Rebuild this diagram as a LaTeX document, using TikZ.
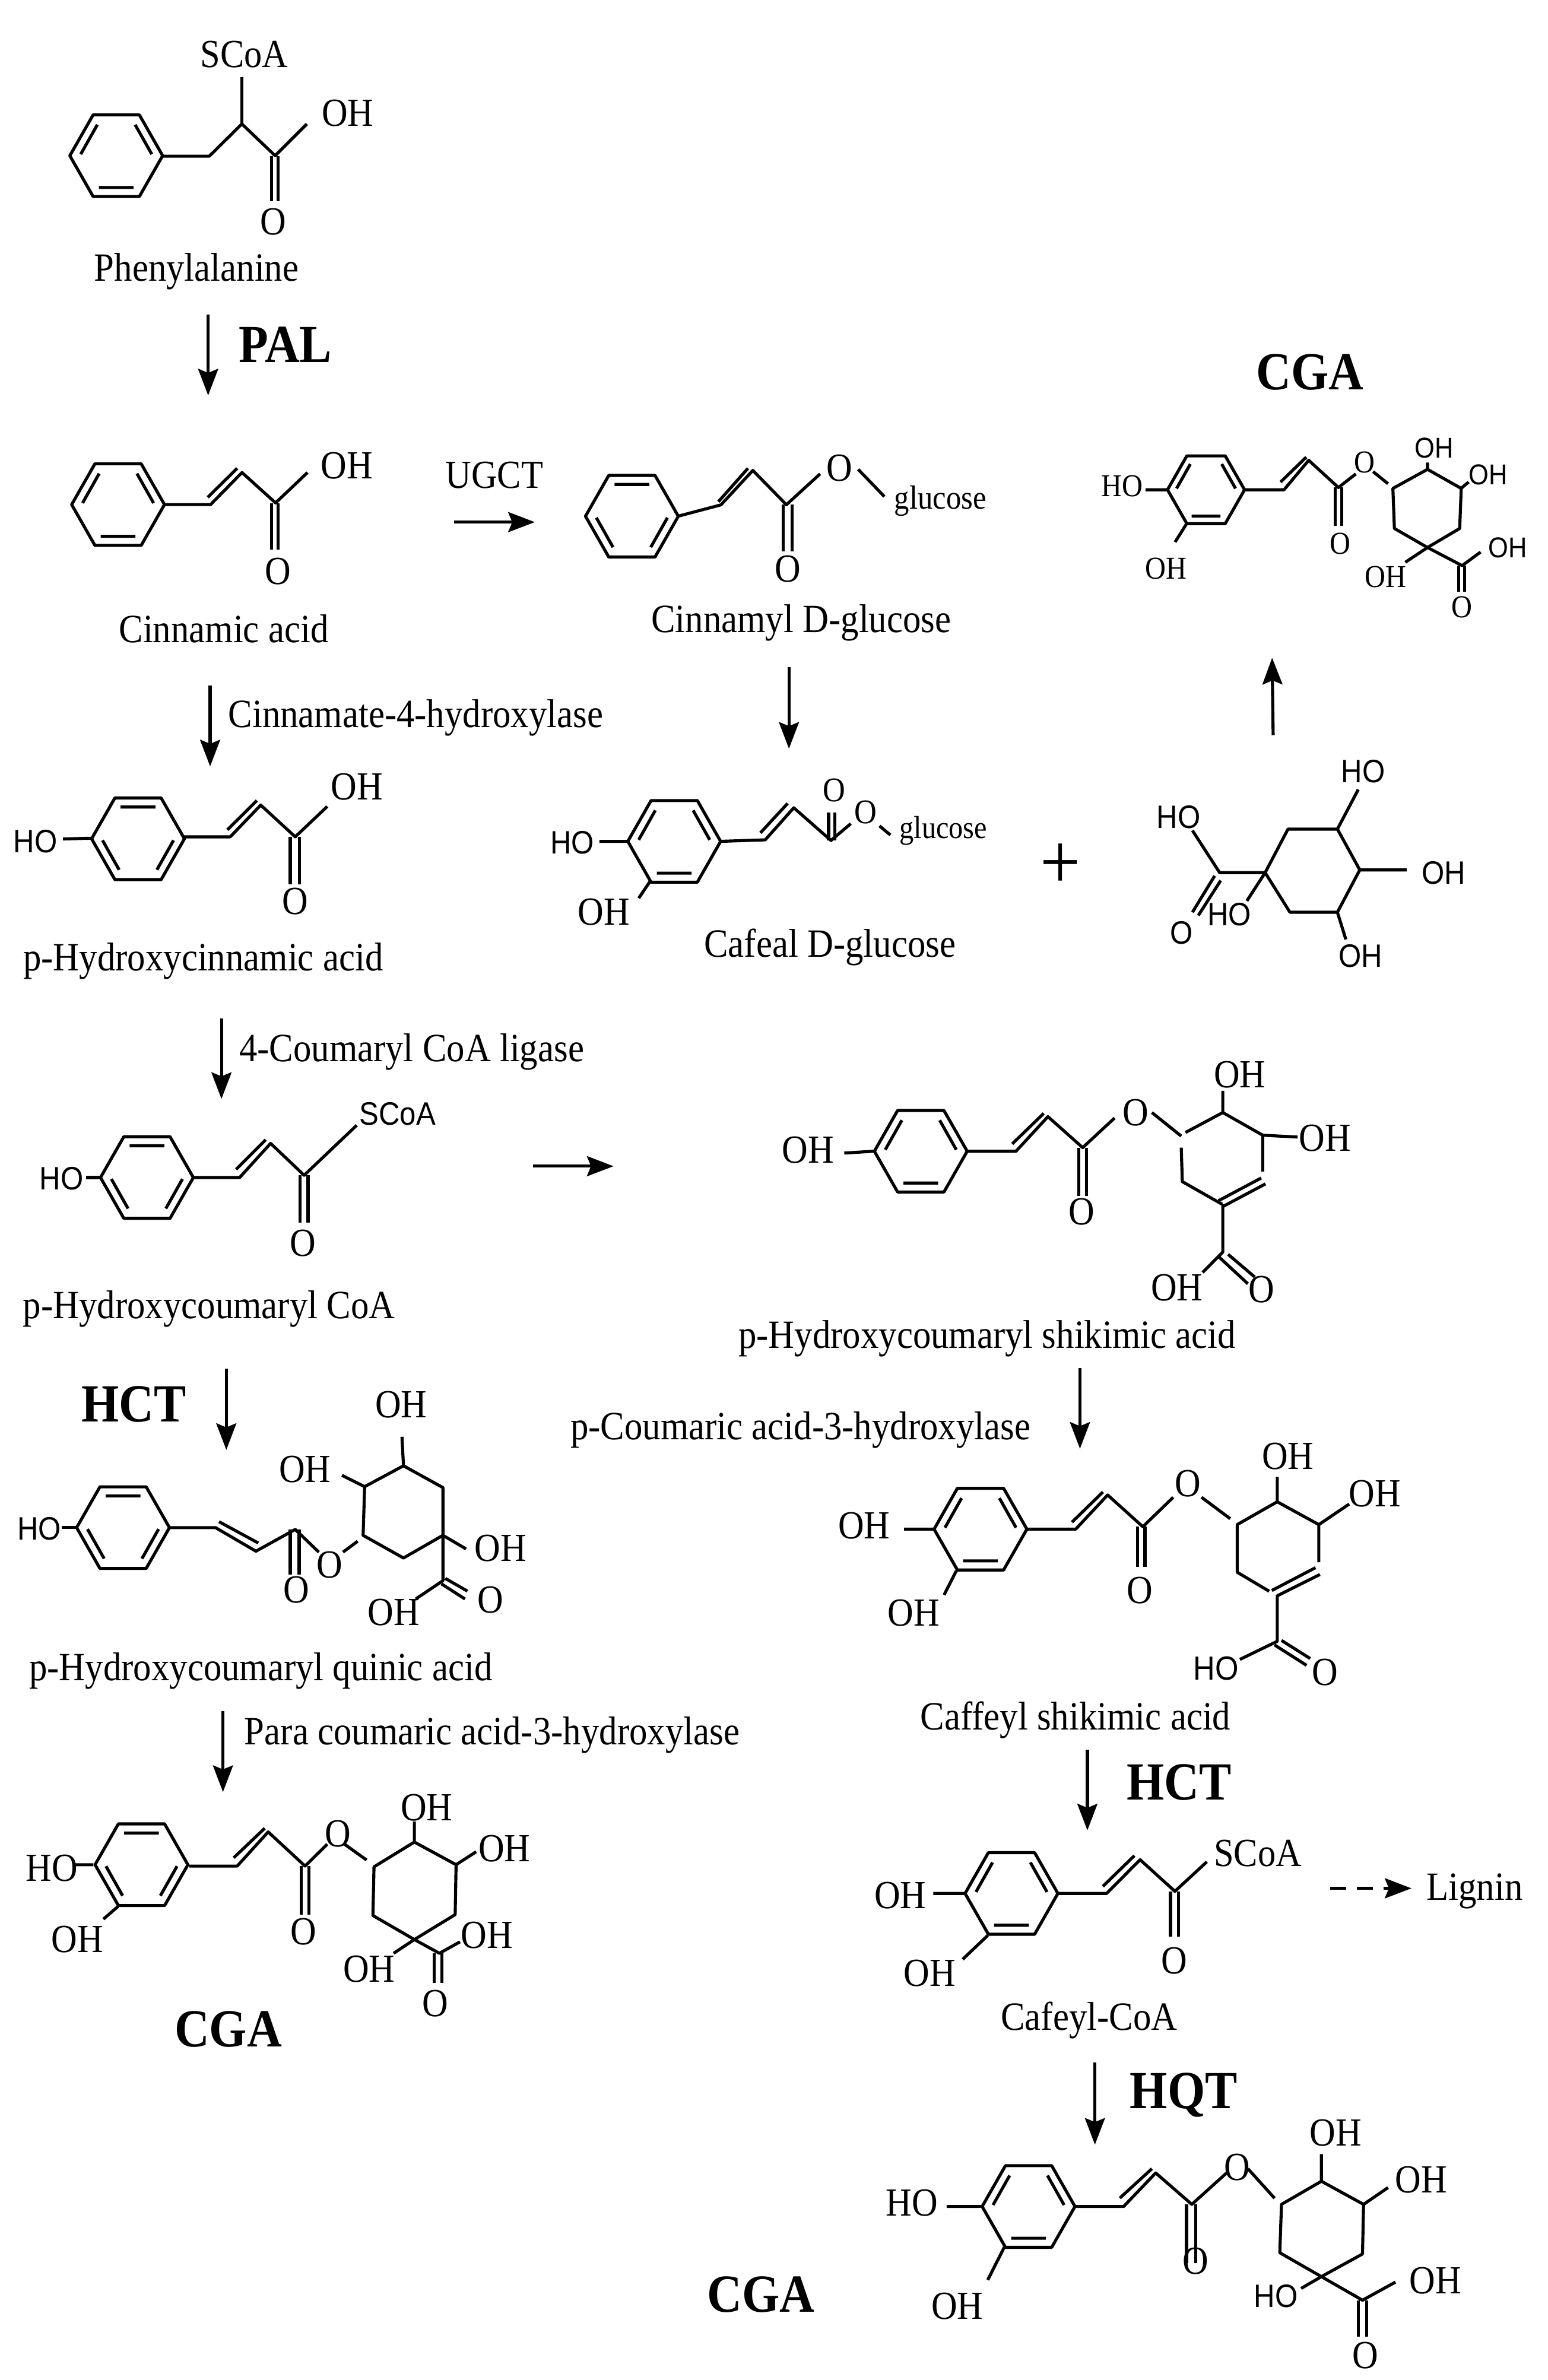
\documentclass[tikz,border=0pt]{standalone}
\usepackage{fontspec}
\setmainfont[FakeStretch=0.9]{Liberation Serif}
\setsansfont[FakeStretch=0.9]{Liberation Sans}
\usetikzlibrary{arrows.meta}
\tikzset{
  bond/.style={line width=1.15pt,line join=round},
  rxn/.style={line width=1.15pt,-{Stealth[length=10pt,width=7.5pt,inset=1.5pt]}},
  atom/.style={inner sep=0pt,font=\fontsize{15}{18}\selectfont},
  atomsf/.style={inner sep=0pt,font=\sffamily\fontsize{12.2}{15}\selectfont},
  atomsm/.style={inner sep=0pt,font=\fontsize{12}{15}\selectfont},
  cpd/.style={inner sep=0pt,font=\fontsize{15.1}{18}\selectfont},
  enz/.style={inner sep=0pt,font=\bfseries\fontsize{20.2}{23}\selectfont},
  ringa/.pic={\draw[bond](-30.7,0)--(-15.3,-27)--(15.3,-27)--(30.7,0)--(15.3,27)--(-15.3,27)--cycle;
    \draw[bond](-23.5,-1)--(-12.5,-20.5)(23.5,-1)--(12.5,-20.5)(-11.5,21)--(11.5,21);},
  ringb/.pic={\draw[bond](-30.7,0)--(-15.3,-27)--(15.3,-27)--(30.7,0)--(15.3,27)--(-15.3,27)--cycle;
    \draw[bond](-23.5,1)--(-12.5,20.5)(23.5,1)--(12.5,20.5)(-11.5,-21)--(11.5,-21);},
}
\begin{document}
\begin{tikzpicture}[x=0.02cm,y=-0.02cm]
\useasboundingbox (0,0) rectangle (1024,1574.5);
\pic at (76.9,103) {ringa};
\draw[bond](107.4,103.3)--(138.5,103.3)--(160,82)--(182,103)--(203,82);
\draw[bond](160,82)--(160,51);
\draw[bond](179.7,103.3)--(179.7,133)(184,103.3)--(184,133);
\node[atom] (phescoa) at (161.5,35.8) {SCoA};
\node[atom] (pheoh) at (230,75) {OH};
\node[atom] (pheo) at (180.6,146.5) {O};
\node[cpd] (phe) at (130,179.5) {Phenylalanine};
\coordinate (palA) at (137.7,208);
\coordinate (palB) at (137.7,261.6);
\draw[rxn](palA)--(palB);
\node[enz] (pal) at (188.8,228) {PAL};
\pic at (78.1,333.8) {ringa};
\draw[bond](108.4,333.8)--(139.3,333.8)--(160.1,312.6)--(182.3,332.7)--(203.4,312.6);
\draw[bond](137.4,329)--(156.9,309.8);
\draw[bond](179.7,333)--(179.7,363.5)(183.9,333)--(183.9,363.5);
\node[atom] (cinoh) at (229.5,307.9) {OH};
\node[atom] (cino) at (184,377.9) {O};
\node[cpd] (cin) at (148,416) {Cinnamic acid};
\node[atom] (ugct) at (327,314.5) {UGCT};
\coordinate (ugctA) at (300.4,345.4);
\coordinate (ugctB) at (353.8,345.4);
\draw[rxn](ugctA)--(ugctB);
\pic at (418,341.5) {ringb};
\draw[bond](448.5,341.5)--(476.9,334)--(498,311.2)--(520.2,333.9)--(542.5,313.5);
\draw[bond](475.2,331.9)--(494.8,309.8);
\draw[bond](518,333.9)--(518,364.6)(524,333.9)--(524,364.6);
\draw[bond](567.7,310.5)--(585,328.5);
\node[atom] (cgluo) at (555.3,309.6) {O};
\node[atom] (cgluo2) at (521.2,376.5) {O};
\node[atomsm,font=\fontsize{12.6}{15}\selectfont] (cglug) at (622,331.5) {glucose};
\node[cpd] (cglu) at (530,412) {Cinnamyl D-glucose};
\coordinate (cgluA) at (521.9,441.2);
\coordinate (cgluB) at (521.9,495.3);
\draw[rxn](cgluA)--(cgluB);
\pic at (91.3,554.9) {ringb};
\draw[bond](41.7,555)--(61.2,554.5);
\draw[bond](121.4,553.6)--(152.3,553.6)--(172.5,532.6)--(195.3,553.6)--(216.5,533.5);
\draw[bond](150.4,549)--(169.9,529.6);
\draw[bond](192,553.6)--(192,585.2)(198,553.6)--(198,585.2);
\node[atomsf] (phcho) at (23.4,556.6) {HO};
\node[atom] (phcoh) at (236,520.5) {OH};
\node[atom] (phco) at (195.3,596.3) {O};
\node[cpd] (phc) at (134.4,636) {p-Hydroxycinnamic acid};
\coordinate (c4hA) at (139,453.5);
\coordinate (c4hB) at (139,507);
\draw[rxn](c4hA)--(c4hB);
\node[cpd] (c4h) at (275,475) {Cinnamate-4-hydroxylase};
\pic at (97.2,779) {ringb};
\draw[bond](57,779)--(66.7,779);
\draw[bond](127.6,779)--(158.5,779)--(179,756.4)--(201.2,777.5)--(236,744.4);
\draw[bond](156.2,773.6)--(175.8,754);
\draw[bond](198.6,777.5)--(198.6,809)(203.8,777.5)--(203.8,809);
\node[atomsf] (pcaho) at (40.7,779.6) {HO};
\node[atom] (pcao) at (200.2,822.5) {O};
\node[atomsf] (pcascoa) at (263,736.9) {SCoA};
\node[cpd] (pca) at (138.3,866) {p-Hydroxycoumaryl CoA};
\coordinate (ligA) at (146.5,673.8);
\coordinate (ligB) at (146.5,727);
\draw[rxn](ligA)--(ligB);
\node[cpd] (lig) at (272.3,696) {4-Coumaryl CoA ligase};
\coordinate (shkA) at (352.5,771.5);
\coordinate (shkB) at (405.9,771.5);
\draw[rxn](shkA)--(shkB);
\pic[scale=.83] at (797.8,324) {ringa};
\draw[bond](757.7,324)--(772.4,324)(785.5,345.6)--(777.3,358.6);
\draw[bond](823.2,324)--(849.4,324)--(865.7,304.5)--(885.4,322.5)--(896.9,313.5);
\draw[bond](847.1,318.9)--(864.1,302.4);
\draw[bond](883.1,322.5)--(883.1,348)(887.7,322.5)--(887.7,348);
\draw[bond](908.3,312)--(918.2,320);
\draw[bond](921.4,323.1)--(944.3,310.5)--(966.6,323.1)--(965.6,349.6)--(944.3,362.2)--(922.4,349.6)--cycle;
\draw[bond](944.3,310.5)--(944.3,306)(966.6,323)--(971.5,318.9)(944.3,362.2)--(929.6,372);
\draw[bond](944.3,362.2)--(967.2,374.2)--(979.4,365.2);
\draw[bond](965,374)--(965,391.6)(968.9,374)--(968.9,391.6);
\node[atomsm] (cgaho) at (742.3,321.6) {HO};
\node[atomsm] (cgaoha) at (771.4,376) {OH};
\node[atomsm] (cgaoa) at (886.4,359.5) {O};
\node[atomsm] (cgaob) at (902.7,306) {O};
\node[atomsf,font=\sffamily\fontsize{10.8}{13}\selectfont] (cgaohb) at (948.6,296.4) {OH};
\node[atomsf,font=\sffamily\fontsize{10.8}{13}\selectfont] (cgaohc) at (984.3,314.1) {OH};
\node[atomsm] (cgaohd) at (916.5,381.7) {OH};
\node[atomsf,font=\sffamily\fontsize{10.8}{13}\selectfont] (cgaohe) at (997.4,362.5) {OH};
\node[atomsm] (cgaoc) at (967.2,401.5) {O};
\node[enz] (cgaA) at (866.5,246) {CGA};
\coordinate (upA) at (842.2,486.3);
\coordinate (upB) at (841.5,435.2);
\draw[rxn](upA)--(upB);
\pic at (446,556.6) {ringa};
\draw[bond](396.5,556.6)--(415.7,556.6)(430.6,582.2)--(422.5,594.2);
\draw[bond](476.2,556.6)--(506.2,555.6)--(525.1,534.4)--(549.7,556)--(562.8,544.9);
\draw[bond](503,551)--(521,531.5);
\draw[bond](548.1,556)--(548.1,537.4)(552.3,556)--(552.3,537.4);
\draw[bond](581.8,546.4)--(589,552.4);
\node[atomsf] (cafho) at (378.6,557.5) {HO};
\node[atom] (cafoh) at (399.4,603.2) {OH};
\node[atom,font=\fontsize{13}{15}\selectfont] (cafoa) at (552,522.9) {O};
\node[atom,font=\fontsize{13}{15}\selectfont] (cafob) at (572.6,537.4) {O};
\node[atomsm] (cafg) at (624,549.5) {glucose};
\node[cpd] (caf) at (549,626.5) {Cafeal D-glucose};
\node[inner sep=0pt,font=\fontsize{30}{32}\selectfont] (plus) at (701.5,573) {+};
\draw[bond](836.9,577.3)--(852,548.5)--(884.7,548.5)--(899.5,575.5)--(884.7,603.5)--(853.3,603.5)--cycle;
\draw[bond](884.7,548.5)--(898.5,522.3)(899.5,575.5)--(930.6,575.5)(884.7,603.5)--(890.3,621.5);
\draw[bond](836.9,577.3)--(806.8,577.3)--(788.8,549.4)(836.9,577.3)--(824.8,596);
\draw[bond](803.5,579.4)--(788.8,603.5)(807.5,582.5)--(792.7,605.6);
\node[atomsf] (qnoha) at (901.8,510.3) {HO};
\node[atomsf] (qnohb) at (955.1,577.3) {OH};
\node[atomsf] (qnohc) at (900.1,632.6) {OH};
\node[atomsf] (qnohd) at (779.6,540.4) {HO};
\node[atomsf] (qnoa) at (781.6,617) {O};
\node[atomsf] (qnohe) at (813.3,605) {HO};
\pic at (609.1,761.6) {ringa};
\draw[bond](558.5,762.8)--(577.9,761.6);
\draw[bond](640.3,761.6)--(672.1,761.6)--(693.2,738.7)--(716.2,759.2)--(737.3,739.6);
\draw[bond](669.6,756.7)--(690.4,736.6);
\draw[bond](713.7,759.2)--(713.7,791.3)(718.6,759.2)--(718.6,791.3);
\draw[bond](762,736)--(781.4,751.6)(784.2,749.2)--(808.9,736)--(835.3,751)--(835.3,775);
\draw[bond](834.3,779.3)--(806.1,794.3)(837.1,783.2)--(808.9,798.2);
\draw[bond](808.5,796.7)--(782.1,781.7)--(781.4,759.2);
\draw[bond](808.9,736)--(808.9,721.6)(835.3,751)--(858.3,752.2);
\draw[bond](808.9,796.7)--(808.9,828.3)--(795.5,841.8);
\draw[bond](806.1,831.3)--(825.5,849.3)(812.4,829.8)--(830,844.8);
\node[atom] (shkoha) at (534.6,760.7) {OH};
\node[atom] (shkoa) at (715.5,801.8) {O};
\node[atom] (shkob) at (751.4,736) {O};
\node[atom] (shkohb) at (820.2,711) {OH};
\node[atom] (shkohc) at (876.6,753.1) {OH};
\node[atom] (shkohd) at (778.6,851.7) {OH};
\node[atom] (shkoc) at (834.3,852.9) {O};
\node[cpd] (shk) at (653,885.5) {p-Hydroxycoumaryl shikimic acid};
\coordinate (c3hA) at (714.4,904.9);
\coordinate (c3hB) at (714.4,958.4);
\draw[rxn](c3hA)--(c3hB);
\node[cpd] (c3h) at (529.5,946) {p-Coumaric acid-3-hydroxylase};
\pic at (648.6,1011.6) {ringa};
\draw[bond](598,1011.6)--(617.4,1011.6)(632.6,1039.2)--(624.5,1055.1);
\draw[bond](679.8,1011.6)--(711.6,1011.6)--(732.7,989)--(756,1010)--(776.1,990.5);
\draw[bond](709.1,1007)--(729.6,987);
\draw[bond](752.5,1010)--(752.5,1036.5)(757.4,1010)--(757.4,1036.5);
\draw[bond](794.8,990.5)--(813.8,1004.7);
\draw[bond](872.4,1033.5)--(872.4,1008.6)--(844.9,993.5)--(818.4,1008.6)--(818.4,1040.1)--(839.6,1052.7);
\draw[bond](870.2,1037.1)--(841.3,1052.2)(873.1,1041.6)--(844.9,1055.7);
\draw[bond](844.9,993.5)--(844.9,977)(872.4,1008.6)--(892.5,995);
\draw[bond](844.9,1055.1)--(844.9,1085.8)--(820.2,1097.8);
\draw[bond](843.1,1088.2)--(864.3,1101.7)(847.7,1085.2)--(866.7,1097.2);
\node[atom] (cskoha) at (571.6,1009.2) {OH};
\node[atom] (cskohb) at (604.4,1067.2) {OH};
\node[atom] (cskoa) at (753.9,1052.1) {O};
\node[atom] (cskob) at (785.6,981.5) {O};
\node[atom] (cskohc) at (851.9,963.5) {OH};
\node[atom] (cskohd) at (909.4,988.1) {OH};
\node[atomsf,font=\sffamily\fontsize{12.6}{15}\selectfont] (cskohe) at (804.3,1103.8) {HO};
\node[atom] (cskoc) at (876.6,1106.2) {O};
\node[cpd] (csk) at (711.5,1138) {Caffeyl shikimic acid};
\coordinate (hctA) at (719.3,1157.5);
\coordinate (hctB) at (719.3,1210.9);
\draw[rxn](hctA)--(hctB);
\node[enz] (hct) at (780,1179) {HCT};
\pic at (669.1,1252.6) {ringa};
\draw[bond](617.4,1252.6)--(637.9,1252.6)(653.4,1280.4)--(636.8,1296.2);
\draw[bond](700.3,1252.6)--(732,1252.6)--(754.2,1230.3)--(777.2,1251.2)--(798.3,1231.7);
\draw[bond](729.6,1247.9)--(750.4,1227.6);
\draw[bond](774.3,1251.2)--(774.3,1281)(779.6,1251.2)--(779.6,1281);
\node[atom] (cfcoha) at (595.6,1254) {OH};
\node[atom] (cfcohb) at (615,1305.4) {OH};
\node[atom] (cfco) at (776.8,1297) {O};
\node[atom] (cfcscoa) at (832,1226.2) {SCoA};
\node[cpd] (lign) at (975.5,1251) {Lignin};
\coordinate (ligninA) at (880,1249.2);
\coordinate (ligninB) at (933.7,1249.2);
\draw[rxn,dash pattern=on 6pt off 4pt](ligninA)--(ligninB);
\node[cpd] (cfc) at (720.5,1336.5) {Cafeyl-CoA};
\coordinate (hqtA) at (724.3,1364.6);
\coordinate (hqtB) at (724.3,1418.8);
\draw[rxn](hqtA)--(hqtB);
\node[enz] (hqt) at (783,1386) {HQT};
\pic at (680.4,1459.7) {ringa};
\draw[bond](626.2,1459.7)--(649.2,1459.7)(664.3,1486.7)--(653.4,1508.3);
\draw[bond](711.6,1459.7)--(743.3,1459.7)--(764.5,1437.5)--(788.4,1458.3)--(811.4,1437.5);
\draw[bond](740.8,1454.1)--(762,1434.7);
\draw[bond](784.9,1458.3)--(784.9,1497.2)(790.9,1458.3)--(790.9,1497.2);
\draw[bond](825.5,1434.7)--(843.1,1454.2);
\draw[bond](847.7,1458.3)--(874.1,1443)--(902,1458.3)--(901.3,1491.1)--(874.1,1506.1)--(846.6,1490.3)--cycle;
\draw[bond](874.1,1443)--(874.1,1425)(902,1458.3)--(918.2,1447.2)(874.1,1506.1)--(860.7,1513.9);
\draw[bond](874.1,1506.1)--(901.3,1521.7)--(923.1,1509.7);
\draw[bond](898.5,1521.7)--(898.5,1545.9)(904.1,1521.7)--(904.1,1545.9);
\node[atom] (cgcho) at (603.3,1457.5) {HO};
\node[atom] (cgcoha) at (633.3,1525.6) {OH};
\node[atom] (cgcoa) at (790.9,1495.8) {O};
\node[atom] (cgcob) at (818.4,1433.8) {O};
\node[atom] (cgcohb) at (883.6,1411) {OH};
\node[atom] (cgcohc) at (940,1442.2) {OH};
\node[atomsf] (cgchob) at (844.1,1518.9) {HO};
\node[atom] (cgcohd) at (949.6,1508.9) {OH};
\node[atom] (cgcoc) at (903,1558.4) {O};
\node[enz] (cgaC) at (503.5,1518) {CGA};
\pic at (81.4,1010.6) {ringb};
\draw[bond](40.7,1010.6)--(51.1,1010.6);
\draw[bond](111.6,1010.6)--(142.6,1010.6)--(169.3,1026.2)--(195.3,1011.8)--(210.9,1026.8);
\draw[bond](144.9,1006.7)--(170.9,1020.8);
\draw[bond](192,1011.8)--(192,1041.8)(197.9,1011.8)--(197.9,1041.8);
\draw[bond](226.9,1026.8)--(236.6,1019.6);
\draw[bond](240.2,1015.7)--(241.2,983.5)--(266.9,969.7)--(293,984.1)--(293,1015.7)--(266.9,1030.7)--cycle;
\draw[bond](266.9,969.7)--(265.9,950.5)(241.2,983.5)--(226.2,976)(293,1015.7)--(308.3,1024.7);
\draw[bond](293,1015.7)--(293,1045.7)--(275,1057.8);
\draw[bond](292,1047.8)--(307.6,1057.8)(294.6,1044.2)--(309.2,1052.6);
\node[atomsf] (pqaho) at (26,1011.2) {HO};
\node[atom] (pqao) at (196,1051.7) {O};
\node[atom] (pqaob) at (218.1,1035.2) {O};
\node[atom] (pqaoha) at (265.3,929.1) {OH};
\node[atom] (pqaohb) at (201.8,972.1) {OH};
\node[atom] (pqaohc) at (331,1024.1) {OH};
\node[atom] (pqaohd) at (260.4,1066.8) {OH};
\node[atom] (pqaoc) at (324.5,1058.4) {O};
\node[cpd] (pqa) at (172.5,1105.5) {p-Hydroxycoumaryl quinic acid};
\coordinate (hctlA) at (149.7,905.4);
\coordinate (hctlB) at (149.7,959.2);
\draw[rxn](hctlA)--(hctlB);
\node[enz] (hctl) at (88.5,929) {HCT};
\coordinate (parA) at (147.5,1132);
\coordinate (parB) at (147.5,1185.5);
\draw[rxn](parA)--(parB);
\node[cpd] (par) at (325.5,1148) {Para coumaric acid-3-hydroxylase};
\pic at (93.6,1233.6) {ringb};
\draw[bond](48.8,1233.6)--(61.8,1233.6)(78.1,1261.2)--(68.4,1269.6);
\draw[bond](125.3,1234.5)--(156.9,1234.5)--(177.4,1211.9)--(201.8,1234.5)--(216.5,1220);
\draw[bond](154.6,1229)--(175.1,1209.5);
\draw[bond](199.2,1234.5)--(199.2,1266.6)(204.4,1234.5)--(204.4,1266.6);
\draw[bond](227.9,1220)--(242.5,1230.5);
\draw[bond](247.4,1235)--(274.1,1218.6)--(301.7,1233.6)--(301.1,1266.6)--(274.1,1283.1)--(246.7,1267.2)--cycle;
\draw[bond](274.1,1218.6)--(274.1,1205)(301.7,1233.6)--(315,1225)(274.1,1283.1)--(260.4,1292.2);
\draw[bond](274.1,1283.1)--(290.7,1292.2)--(304.3,1284.6);
\draw[bond](287.1,1292.2)--(287.1,1311.7)(292.3,1292.2)--(292.3,1311.7);
\node[atom] (cglho) at (34.2,1235.7) {HO};
\node[atom] (cgloha) at (51.1,1283.1) {OH};
\node[atom] (cgloa) at (200.8,1278) {O};
\node[atom] (cglob) at (223.6,1213.1) {O};
\node[atom] (cglohb) at (282.2,1196) {OH};
\node[atom] (cglohc) at (333.6,1223) {OH};
\node[atom] (cglohd) at (244.1,1302.7) {OH};
\node[atom] (cglohe) at (322.2,1280.1) {OH};
\node[atom] (cgloc) at (288.1,1325.2) {O};
\node[enz] (cgaB) at (151,1342.5) {CGA};
\end{tikzpicture}
\end{document}
